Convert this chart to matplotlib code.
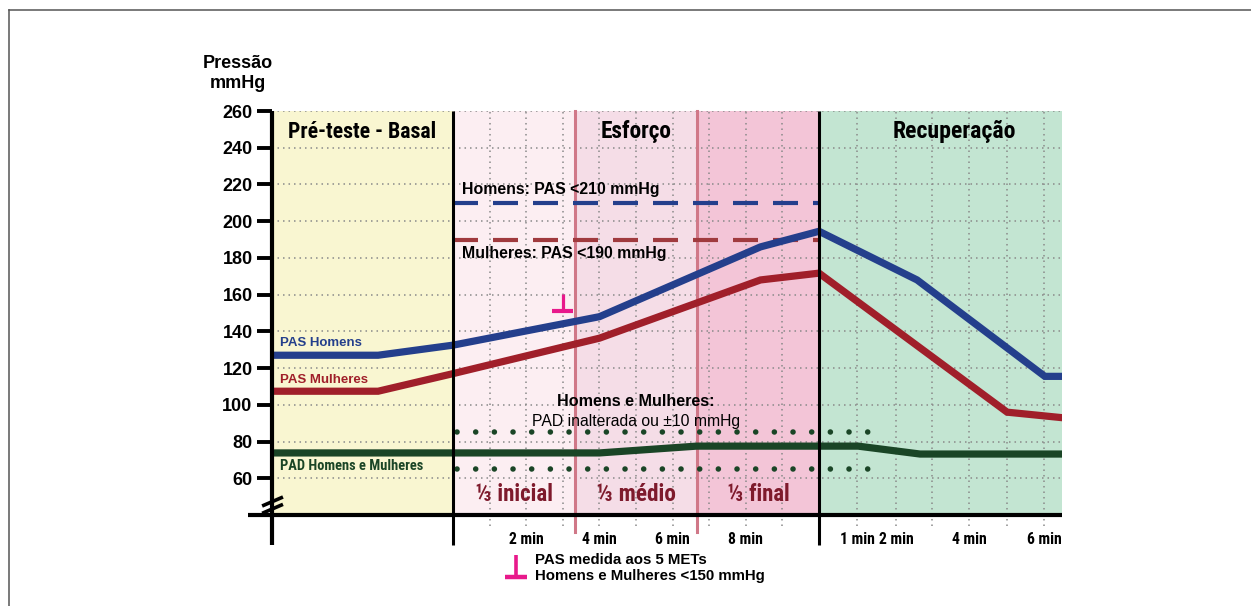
import matplotlib
matplotlib.use("Agg")
import os
import matplotlib.pyplot as plt
from matplotlib import font_manager
from matplotlib.font_manager import FontProperties
from matplotlib.lines import Line2D

BASE = "Liberation Sans"
plt.rcParams['font.family'] = [BASE, 'DejaVu Sans']


def find_condensed():
    files = [f.fname for f in font_manager.fontManager.ttflist]
    for key in ["LiberationSansNarrow-Bold.", "RobotoCondensed-Bold.", "Roboto_Condensed-Bold.",
                "OpenSans_Condensed-Bold.", "OpenSansCondensed-Bold."]:
        for fn in files:
            if os.path.basename(fn).startswith(key):
                return fn
    return None


COND_FILE = find_condensed()


def cond_props(size):
    if COND_FILE:
        return FontProperties(fname=COND_FILE, size=size)
    return FontProperties(family=[BASE, 'DejaVu Sans'], weight="bold", size=size)


# ---------------- data ----------------
yticks = [60, 80, 100, 120, 140, 160, 180, 200, 220, 240, 260]
ex_ticks = [2, 4, 6, 8]
ex_tick_labels = ["2 min", "4 min", "6 min", "8 min"]
rec_ticks = [11.05, 12.1, 14.1, 16.15]
rec_tick_labels = ["1 min", "2 min", "4 min", "6 min"]
ex_grid = [1, 2, 3, 4, 5, 6, 7, 8, 9]
rec_grid = [11.05, 12.1, 13.1, 14.1, 15.15, 16.15]

pas_h_x = [-4.95, -2.05, 0, 4, 8.4, 10, 12.68, 16.17, 16.64]
pas_h_y = [127, 127, 132.5, 148, 186, 194.5, 168, 115.5, 115.5]
pas_m_x = [-4.95, -2.05, 0, 4, 8.4, 10, 15.14, 16.64]
pas_m_y = [107.4, 107.4, 117, 136.3, 168, 171.7, 96, 93]
pad_x = [-4.95, 4.0, 6.65, 11.07, 12.76, 16.64]
pad_y = [73.8, 73.8, 77.5, 77.5, 73.2, 73.2]

lim_h = 210
lim_m = 190
pad_band = [65, 85]
met5_x, met5_y = 3.0, 151

phases = ["Pré-teste - Basal", "Esforço", "Recuperação"]
thirds = ["⅓ inicial", "⅓ médio", "⅓ final"]

# ---------------- colors ----------------
C_PRE = "#F9F6D1"
C_T1 = "#FCEEF2"
C_T2 = "#F5DDE7"
C_T3 = "#F3C5D7"
C_REC = "#C3E5D2"
C_BLUE = "#243F8C"
C_RED = "#A01F2A"
C_GREEN = "#1A4526"
C_DRED = "#7E1A2C"
C_DIV = "#D07888"
C_PINK = "#E8198B"

W, H = 1251, 606
fig = plt.figure(figsize=(W / 100, H / 100), dpi=100)
X0, X1 = -4.95, 16.64
Y0, Y1 = 40, 260
ax = fig.add_axes([272 / W, 1 - 515 / H, (1062 - 272) / W, (515 - 111) / H])
ax.set_xlim(X0, X1)
ax.set_ylim(Y0, Y1)
for s in ax.spines.values():
    s.set_visible(False)

# backgrounds
ax.axvspan(X0, 0, color=C_PRE, zorder=0, lw=0)
ax.axvspan(0, 10 / 3, color=C_T1, zorder=0, lw=0)
ax.axvspan(10 / 3, 20 / 3, color=C_T2, zorder=0, lw=0)
ax.axvspan(20 / 3, 10, color=C_T3, zorder=0, lw=0)
ax.axvspan(10, X1, color=C_REC, zorder=0, lw=0)

gkw = dict(color="#8a8a8a", lw=1.1, linestyle=(0, (1, 2.6)), zorder=1)
for yv in yticks:
    ax.plot([X0, X1], [yv, yv], **gkw)
for xv in ex_grid + rec_grid:
    ax.plot([xv, xv], [34, Y1], clip_on=False, **gkw)

# thirds dividers
for xv in [10 / 3, 20 / 3]:
    ax.plot([xv, xv], [31, Y1], color=C_DIV, lw=2.2, clip_on=False, zorder=2)

# axes lines
ax.plot([X0, X0], [23.5, Y1], color="black", lw=3.0, clip_on=False, zorder=6, solid_capstyle="butt")
ax.plot([-5.6, X1], [Y0, Y0], color="black", lw=3.0, clip_on=False, zorder=6, solid_capstyle="butt")
for xv in [0, 10]:
    ax.plot([xv, xv], [23.5, Y1], color="black", lw=2.2, clip_on=False, zorder=6, solid_capstyle="butt")

# break marks on y axis
for yb in [46.5, 42.5]:
    ax.plot([X0 - 0.27, X0 + 0.3], [yb - 1.6, yb + 3.3], color="black", lw=2.6,
            clip_on=False, zorder=7, solid_capstyle="butt")

# reference lines
ax.plot([0, 10], [lim_h, lim_h], color=C_BLUE, lw=3.0, linestyle=(0, (6, 3.6)), zorder=3)
ax.plot([0, 10], [lim_m, lim_m], color="#A03A3E", lw=3.0, linestyle=(0, (6, 3.6)), zorder=3)
for yv in pad_band:
    ax.plot([0.1, 11.5], [yv, yv], color=C_GREEN, lw=4.0, linestyle=(0, (0.01, 3.35)),
            dash_capstyle="round", zorder=3)

# series
ax.plot(pas_h_x, pas_h_y, color=C_BLUE, lw=5.2, zorder=5, solid_joinstyle="miter")
ax.plot(pas_m_x, pas_m_y, color=C_RED, lw=5.2, zorder=5, solid_joinstyle="miter")
ax.plot(pad_x, pad_y, color=C_GREEN, lw=5.2, zorder=5, solid_joinstyle="miter")

# 5 METs marker (inverted T)
ax.plot([met5_x, met5_x], [met5_y, met5_y + 9.5], color=C_PINK, lw=2.3, zorder=6, solid_capstyle="butt")
ax.plot([met5_x - 0.3, met5_x + 0.28], [met5_y, met5_y], color=C_PINK, lw=3.0, zorder=6, solid_capstyle="butt")

# ticks
ax.set_yticks(yticks)
ax.set_yticklabels([str(v) for v in yticks], fontsize=13, fontweight="bold")
ax.tick_params(axis="y", length=11, width=2.8, pad=3, color="black")
ax.set_xticks(ex_ticks + rec_ticks)
ax.set_xticklabels(ex_tick_labels + rec_tick_labels)
for t in ax.get_xticklabels():
    t.set_fontproperties(cond_props(11.5))
ax.tick_params(axis="x", length=0, pad=12)

fit = []  # (text, target width px)

# phase titles
for cx, lab, wpx in zip([-2.48, 5.0, 13.7], phases, [148, 71, 123]):
    t = ax.text(cx, 248.6, lab, ha="center", va="center", zorder=8, fontproperties=cond_props(16))
    fit.append((t, wpx))

# thirds labels
for cx, lab, wpx in zip([1.67, 5.0, 8.33], thirds, [78, 80, 63]):
    t = ax.text(cx, 51, lab, color=C_DRED, ha="center", va="center", zorder=8, fontproperties=cond_props(16))
    fit.append((t, wpx))

# annotations
ax.text(0.25, 217, "Homens: PAS <210 mmHg", fontsize=11.4, fontweight="bold", ha="left", va="center", zorder=8)
ax.text(0.25, 182.6, "Mulheres: PAS <190 mmHg", fontsize=11.4, fontweight="bold", ha="left", va="center", zorder=8)
ax.text(-4.73, 133.6, "PAS Homens", fontsize=9.5, fontweight="bold", color=C_BLUE, ha="left", va="center", zorder=8)
ax.text(-4.73, 113.5, "PAS Mulheres", fontsize=9.5, fontweight="bold", color=C_RED, ha="left", va="center", zorder=8)
t = ax.text(-4.73, 66.6, "PAD Homens e Mulheres", color=C_GREEN, ha="left", va="center", zorder=8,
            fontproperties=cond_props(10))
fit.append((t, 142))
ax.text(5.0, 102, "Homens e Mulheres:", fontsize=11.6, fontweight="bold", ha="center", va="center", zorder=8)
ax.text(5.0, 91, "PAD inalterada ou ±10 mmHg", fontsize=11.3, ha="center", va="center", zorder=8)

# legend below
ax.plot([1.72, 1.72], [6.2, 18.2], color=C_PINK, lw=2.6, clip_on=False, solid_capstyle="butt")
ax.plot([1.42, 2.02], [6.2, 6.2], color=C_PINK, lw=3.2, clip_on=False, solid_capstyle="butt")
ax.text(2.24, 15.5, "PAS medida aos 5 METs", fontsize=10.8, fontweight="bold", ha="left", va="center")
ax.text(2.24, 6.9, "Homens e Mulheres <150 mmHg", fontsize=10.8, fontweight="bold", ha="left", va="center")

# y label
fig.text(238 / W, 1 - 64 / H, "Pressão", fontsize=13, fontweight="bold", ha="center", va="center")
fig.text(238 / W, 1 - 84 / H, "mmHg", fontsize=13, fontweight="bold", ha="center", va="center")

# frame
fig.add_artist(Line2D([9 / W, 1], [1 - 10 / H, 1 - 10 / H], color="#555555", lw=1.1, transform=fig.transFigure))
fig.add_artist(Line2D([9 / W, 9 / W], [0, 1 - 10 / H], color="#555555", lw=1.1, transform=fig.transFigure))

# fit condensed texts to reference widths
renderer = fig.canvas.get_renderer()
for t, wpx in fit:
    w = t.get_window_extent(renderer).width
    t.set_fontsize(t.get_fontsize() * wpx / w)
for t in ax.get_xticklabels():
    w = t.get_window_extent(renderer).width
    if w > 0:
        t.set_fontsize(t.get_fontsize() * 35 / w)

fig.savefig("out.png", dpi=100)
